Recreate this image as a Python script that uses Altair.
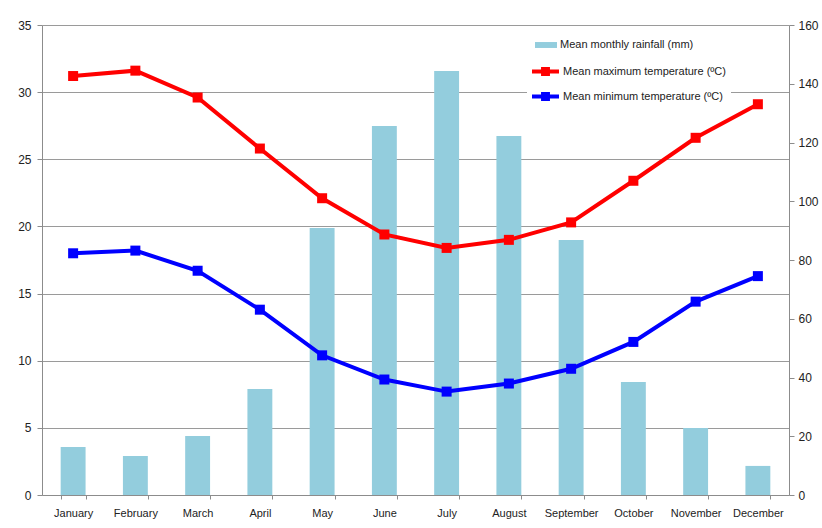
import altair as alt
import pandas as pd

months = ["January", "February", "March", "April", "May", "June",
          "July", "August", "September", "October", "November", "December"]
rainfall = [16.3, 13.3, 20.1, 36.1, 90.9, 125.6, 144.3, 122.2, 86.8, 38.5, 22.8, 9.9]
t_max = [31.2, 31.6, 29.6, 25.8, 22.1, 19.4, 18.4, 19.0, 20.3, 23.4, 26.6, 29.1]
t_min = [18.0, 18.2, 16.7, 13.8, 10.4, 8.6, 7.7, 8.3, 9.4, 11.4, 14.4, 16.3]

rain_label = "Mean monthly rainfall (mm)"
max_label = "Mean maximum temperature (ºC)"
min_label = "Mean minimum temperature (ºC)"

df_rain = pd.DataFrame({"month": months, "value": rainfall, "series": rain_label})
series_col = [max_label] * 12 + [min_label] * 12
df_temp = pd.DataFrame({
    "month": months * 2,
    "value": t_max + t_min,
    "series": series_col,
    "line_series": series_col,
})

FONT = "Liberation Sans"
FS = 11
AXIS_COLOR = "#8c8c8c"
LABEL_COLOR = "#222222"

x_enc = alt.X(
    "month:N", sort=months,
    scale=alt.Scale(paddingInner=0.6, paddingOuter=0.3),
    axis=alt.Axis(title=None, labelAngle=0, tickBand="extent", tickSize=4,
                  labelPadding=8, labelFontSize=FS, labelFont=FONT,
                  labelColor=LABEL_COLOR, domainColor=AXIS_COLOR,
                  tickColor=AXIS_COLOR, grid=False),
)

bars = alt.Chart(df_rain).mark_bar(color="#93CDDD").encode(
    x=x_enc,
    y=alt.Y("value:Q", scale=alt.Scale(domain=[0, 160], nice=False),
            axis=alt.Axis(orient="right", title=None, values=list(range(0, 161, 20)),
                          grid=False, tickSize=5, labelPadding=4,
                          labelFontSize=FS + 1, labelFont=FONT, labelColor=LABEL_COLOR,
                          domainColor=AXIS_COLOR, tickColor=AXIS_COLOR)),
    fill=alt.Fill("series:N",
                  scale=alt.Scale(domain=[rain_label], range=["#93CDDD"]),
                  legend=alt.Legend(title=None, orient="none", legendX=488, legendY=4,
                                    symbolType="M-1,-0.27H1V0.27H-1Z", symbolSize=484,
                                    symbolStrokeWidth=0, labelFont=FONT, labelFontSize=FS,
                                    labelColor=LABEL_COLOR, labelOffset=3, padding=5,
                                    labelLimit=300, fillColor="white")),
)

y_temp = alt.Y("value:Q", scale=alt.Scale(domain=[0, 35], nice=False),
               axis=alt.Axis(title=None, values=list(range(0, 36, 5)), grid=True,
                             gridColor="#9a9a9a", gridWidth=1, tickSize=5,
                             labelPadding=6, labelFontSize=FS + 1, labelFont=FONT,
                             labelColor=LABEL_COLOR, domainColor=AXIS_COLOR,
                             tickColor=AXIS_COLOR))

lines = alt.Chart(df_temp).mark_line(strokeWidth=4).encode(
    x=x_enc,
    y=y_temp,
    stroke=alt.Stroke("line_series:N",
                      scale=alt.Scale(range=["#FF0000", "#0000FF"]),
                      legend=None),
)

points = alt.Chart(df_temp).mark_point(shape="square", filled=True, size=100, opacity=1).encode(
    x=x_enc,
    y=y_temp,
    color=alt.Color("series:N",
                    scale=alt.Scale(domain=[max_label, min_label], range=["#FF0000", "#0000FF"]),
                    legend=alt.Legend(title=None, orient="none", legendX=485, legendY=28,
                                      symbolType="M-1,-0.15H1V0.15H-1Z M-0.33,-0.33H0.33V0.33H-0.33Z",
                                      symbolSize=729, symbolStrokeWidth=0, rowPadding=6,
                                      labelFont=FONT, labelFontSize=FS, labelColor=LABEL_COLOR,
                                      labelOffset=4, padding=5, labelLimit=300,
                                      fillColor="white")),
)

temps = alt.layer(lines, points)

chart = alt.layer(bars, temps).resolve_scale(
    y="independent"
).properties(
    width=747, height=470,
    padding={"left": 42, "top": 25, "right": 33, "bottom": 33},
    autosize=alt.AutoSizeParams(type="none"),
    background="white",
).configure_view(stroke=None)

chart.save("out.html", embed_options={"renderer": "svg", "actions": False})
